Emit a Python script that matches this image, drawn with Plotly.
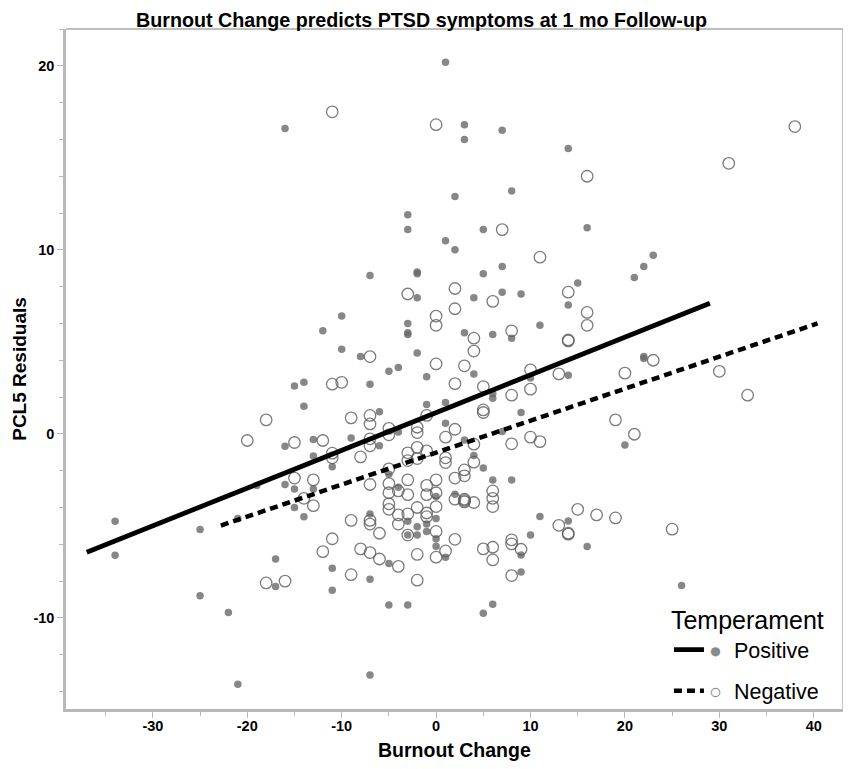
import plotly.graph_objects as go

# ---- data ----
pos_x = [1, -16, 3, 3, 7, 14, -3, -3, 1, 2, 8, 5, 16, 2, 7, 5, 23, 22, 21, 15,
         -7, -2, -2, -2, 4, 7, 9, 14, -10, -12, -3, -3, -3, 3, 6, 8, 11, -10, -8, -2,
         22, 22, -5, -4, -1, 4, 10, 14, -15, -14, -7, -14, -1, 1, 6, 6, 9, -6, 1, 7,
         -4, -16, -13, -9, -6, 3, 20, -11, -13, 4, 5, -19, -16, -15, -13, -15, -14, -5, -4, 6,
         8, 2, 0, -3, 0, 0, 0, 1, -21, -25, -34, -34, -7, -3, -2, -2, -1, -1, -17, -5,
         -11, -7, -17, -11, -25, -22, -5, -3, -21, -7, 9, 10, 11, 14, 16, 26, 9, 5, 6]
pos_y = [20.2, 16.6, 16.8, 16.0, 16.5, 15.5, 11.9, 11.1, 10.5, 12.9, 13.2, 11.1, 11.2, 10.0, 9.1, 8.7, 9.7, 9.1, 8.5, 8.2,
         8.6, 8.7, 8.8, 7.4, 7.4, 7.7, 7.6, 7.0, 6.4, 5.6, 6.0, 5.4, 5.5, 5.5, 5.4, 5.2, 5.9, 4.6, 4.2, 4.4,
         4.2, 4.1, 3.4, 3.6, 3.1, 3.26, 3.04, 3.19, 2.6, 2.8, 2.7, 1.5, 1.6, 1.7, 1.94, 2.2, 1.16, 1.2, 0.58, 0.13,
         0.1, -0.67, -0.31, -0.22, -0.65, -0.33, -0.6, -1.78, -1.2, -1.18, -1.85, -2.8, -2.75, -3.0, -3.0, -4.0, -4.5, -2.2, -2.9, -2.5,
         -2.5, -3.28, -3.4, -4.75, -4.6, -5.7, -6.1, -6.7, -4.6, -5.2, -4.75, -6.6, -4.35, -5.5, -5.05, -5.5, -4.9, -5.3, -6.8, -7.05,
         -7.3, -7.9, -8.3, -8.5, -8.8, -9.7, -9.3, -9.3, -13.6, -13.1, -6.58, -5.49, -4.49, -4.73, -6.12, -8.24, -7.5, -9.75, -9.26]

neg_x = [-11, 0, 16, 38, 31, 7, 11, -3, 2, 2, 6, 14, 16, 16, 0, 0, 4, 4, 8, 14,
         14, -7, 23, 0, 3, 2, 5, 5, 5, 8, 10, 10, 13, 20, 30, 33, -11, -10, -18, -9,
         -7, -7, -1, -20, -15, -12, -7, -7, -5, -5, -2, -2, 1, 2, 4, 8, 10, 11, 19, 21,
         -11, -11, -8, -3, -2, -2, -1, -3, 1, 1, 4, 3, 3, 2, -15, -13, -14, -13, -7, -5,
         -5, -5, -4, -3, -3, -5, -5, -4, -4, -3, -2, -1, -1, -1, -1, 0, 0, 0, 0, 0,
         1, 6, 6, 6, 2, 3, 3, 3, 4, 2, 5, 6, 6, 8, 8, 9, 13, 14, 14, 15,
         17, 19, 25, 8, -9, -7, -7, -6, -3, -11, -12, -8, -7, -6, -4, -2, -9, -2, -18, -16]
neg_y = [17.5, 16.8, 14.0, 16.7, 14.7, 11.1, 9.6, 7.6, 7.9, 6.8, 7.2, 7.7, 6.6, 5.9, 6.4, 5.9, 5.2, 4.5, 5.6, 5.05,
         5.1, 4.2, 4.0, 3.8, 3.7, 2.73, 2.57, 1.3, 1.16, 2.1, 3.48, 2.43, 3.26, 3.3, 3.4, 2.1, 2.7, 2.8, 0.76, 0.87,
         1.0, 0.54, 1.0, -0.36, -0.47, -0.36, -0.27, -0.65, 0.3, -0.05, 0.36, 0.07, -0.18, 0.25, -0.56, -0.54, -0.18, -0.42, 0.76, -0.02,
         -1.05, -1.3, -1.25, -1.03, -0.73, -1.34, -0.92, -1.45, -1.3, -1.56, -1.54, -1.96, -2.28, -2.4, -2.4, -2.5, -3.5, -3.9, -2.75, -1.9,
         -2.7, -3.2, -3.1, -2.5, -3.3, -3.8, -4.1, -4.4, -4.9, -4.35, -4.0, -2.8, -3.3, -4.3, -4.5, -2.5, -3.2, -3.95, -5.3, -6.7,
         -6.36, -3.1, -3.5, -3.95, -3.55, -3.55, -3.62, -3.7, -3.73, -5.73, -6.25, -6.16, -6.85, -5.76, -5.98, -6.27, -4.97, -5.4, -5.45, -4.1,
         -4.4, -4.57, -5.18, -7.7, -4.7, -4.7, -4.9, -5.4, -5.5, -5.7, -6.4, -6.25, -6.45, -6.8, -7.2, -6.55, -7.65, -7.95, -8.1, -8.0]

# fitted lines (end points)
pos_fit_x = [-37, 29]
pos_fit_y = [-6.43, 7.1]
neg_fit_x = [-22.8, 40.4]
neg_fit_y = [-4.98, 6.0]

x_ticks = [-30, -20, -10, 0, 10, 20, 30, 40]
y_ticks = [-10, 0, 10, 20]

FONT = "Liberation Sans, Arial, Helvetica, sans-serif"
AXIS = "#b8b8b8"

fig = go.Figure()

fig.add_trace(go.Scatter(
    x=pos_x, y=pos_y, mode="markers", showlegend=False,
    marker=dict(size=7.5, color="rgba(105,105,105,0.8)", line=dict(width=0)),
))
fig.add_trace(go.Scatter(
    x=neg_x, y=neg_y, mode="markers", showlegend=False,
    marker=dict(size=11.5, color="rgba(0,0,0,0)",
                line=dict(width=1.3, color="rgba(90,90,90,0.8)")),
))
fig.add_trace(go.Scatter(
    x=pos_fit_x, y=pos_fit_y, mode="lines", legendgroup="pos",
    name='<span style="color:#8a8a8a">●</span>  Positive',
    line=dict(color="black", width=4.8),
))
fig.add_trace(go.Scatter(
    x=neg_fit_x, y=neg_fit_y, mode="lines", legendgroup="neg",
    name='<span style="color:#8a8a8a">○</span>  Negative',
    line=dict(color="black", width=4.5, dash="8px,5px"),
))

# the page adds an 8px body margin, so margins are offset by 8px
fig.update_layout(
    width=851, height=769,
    margin=dict(l=58, r=16, t=21, b=68, autoexpand=False),
    paper_bgcolor="white", plot_bgcolor="white",
    font=dict(family=FONT, color="black"),
    title=dict(
        text="<b>Burnout Change predicts PTSD symptoms at 1 mo Follow-up</b>",
        x=0.4575, xref="paper", xanchor="center",
        y=0.9935, yref="container", yanchor="top", pad=dict(t=0, b=0),
        font=dict(size=19.7, family=FONT, color="black"),
    ),
    legend=dict(
        title=dict(text="Temperament", font=dict(size=25, family=FONT)),
        font=dict(size=21.5, family=FONT),
        x=0.776, xanchor="left", y=-0.004, yanchor="bottom",
        bgcolor="rgba(0,0,0,0)", tracegroupgap=10,
        itemwidth=30,
    ),
    annotations=[
        dict(text="<b>Burnout Change</b>", xref="paper", yref="paper",
             x=0.5, y=-0.041, xanchor="center", yanchor="top", showarrow=False,
             font=dict(size=19.5, family=FONT, color="black")),
    ],
    shapes=[
        dict(type="line", xref="paper", yref="paper", x0=0, x1=1, y0=1, y1=1,
             line=dict(color="#a8a8a8", width=1.3)),
        dict(type="line", xref="paper", yref="paper", x0=1, x1=1, y0=0, y1=1,
             line=dict(color="#a8a8a8", width=1.3)),
    ],
)

fig.update_xaxes(
    range=[-39.2, 43.1], tickmode="array", tickvals=x_ticks,
    ticktext=["<b>%d</b>" % v for v in x_ticks], automargin=False,
    showgrid=False, zeroline=False,
    showline=True, linecolor=AXIS, linewidth=2.5,
    ticks="outside", ticklen=6, tickwidth=1.2, tickcolor=AXIS,
    ticklabelstandoff=-4,
    tickfont=dict(size=14.5, family=FONT, color="black"),
    minor=dict(dtick=5, tick0=0, ticks="outside", ticklen=4, tickcolor=AXIS, tickwidth=1),
)
fig.update_yaxes(
    range=[-14.95, 22.0], tickmode="array", tickvals=y_ticks,
    ticktext=["<b>%d</b>" % v for v in y_ticks], automargin=False,
    showgrid=False, zeroline=False,
    showline=True, linecolor=AXIS, linewidth=2.5,
    ticks="outside", ticklen=6, tickwidth=1.2, tickcolor=AXIS,
    tickfont=dict(size=14.5, family=FONT, color="black"),
    minor=dict(dtick=2, tick0=0, ticks="outside", ticklen=4, tickcolor=AXIS, tickwidth=1),
    title=dict(text="<b>PCL5 Residuals</b>", font=dict(size=19, family=FONT), standoff=2),
)

fig.write_html("out.html")
